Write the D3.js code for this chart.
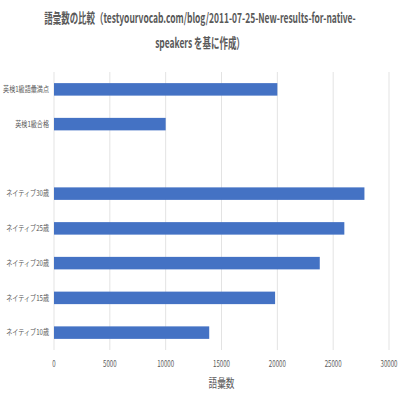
<!DOCTYPE html>
<html>
<head>
<meta charset="utf-8">
<script src="https://cdn.jsdelivr.net/npm/d3@7"></script>
<style>
  body { margin: 0; background: #fff; }
  svg text { font-family: "Noto Sans CJK JP", "Noto Sans", sans-serif; }
</style>
</head>
<body>
<div id="chart"></div>
<script>
// data
const categories = ["英検1級語彙満点", "英検1級合格", "", "ネイティブ30歳", "ネイティブ25歳", "ネイティブ20歳", "ネイティブ15歳", "ネイティブ10歳"];
const values = [20000, 10000, null, 27800, 26000, 23800, 19800, 13900];
const xTicks = [0, 5000, 10000, 15000, 20000, 25000, 30000];
const titleLines = ["語彙数の比較（testyourvocab.com/blog/2011-07-25-New-results-for-native-", "speakers を基に作成）"];
const xTitle = "語彙数";

const data = categories.map((c, i) => ({ cat: c, key: "c" + i, value: values[i] }));

// dimensions
const W = 400, H = 400;
const margin = { top: 72, right: 11, bottom: 50, left: 54 };
const width = W - margin.left - margin.right;
const height = H - margin.top - margin.bottom;

// squeeze text horizontally (the original uses a condensed font)
function condense(sel, k) {
  sel.each(function () {
    const t = d3.select(this);
    const x0 = +t.attr("x"), y0 = +t.attr("y");
    t.attr("x", 0).attr("y", 0)
      .attr("transform", `translate(${x0},${y0}) scale(${k},1)`);
  });
}

const root = d3.select("#chart").append("svg")
  .attr("width", W)
  .attr("height", H);

// title
const title = root.append("g").selectAll("text")
  .data(titleLines)
  .join("text")
  .attr("x", W / 2)
  .attr("y", (d, i) => 23 + i * 25)
  .attr("text-anchor", "middle")
  .style("font-size", "13.5px")
  .style("font-weight", "bold")
  .attr("fill", "#595959")
  .text(d => d);
const titleW = title.node().getComputedTextLength();
condense(title, 312 / titleW);

const svg = root.append("g")
  .attr("transform", `translate(${margin.left},${margin.top})`);

// scales
const x = d3.scaleLinear()
  .domain([0, 30000])
  .range([0, width]);

const y = d3.scaleBand()
  .domain(data.map(d => d.key))
  .range([0, height])
  .paddingInner(0.64)
  .paddingOuter(0.32);

// gridlines
svg.append("g")
  .selectAll("line")
  .data(xTicks)
  .join("line")
  .attr("x1", d => x(d))
  .attr("x2", d => x(d))
  .attr("y1", 0)
  .attr("y2", height)
  .attr("stroke", "#e3e3e3")
  .attr("stroke-width", 1);

// x tick labels
svg.append("g")
  .selectAll("text")
  .data(xTicks)
  .join("text")
  .attr("x", d => x(d))
  .attr("y", height + 17)
  .attr("text-anchor", "middle")
  .style("font-size", "8.5px")
  .attr("fill", "#595959")
  .text(d => d)
  .call(condense, 0.72);

// category labels
const catLabels = svg.append("g")
  .selectAll("text")
  .data(data)
  .join("text")
  .attr("x", -5)
  .attr("y", d => y(d.key) + y.bandwidth() / 2)
  .attr("dy", "0.35em")
  .attr("text-anchor", "end")
  .style("font-size", "8px")
  .attr("fill", "#595959")
  .text(d => d.cat);
const catW = catLabels.nodes()[0].getComputedTextLength();
condense(catLabels, 46 / catW);

// bars
svg.append("g")
  .selectAll("rect")
  .data(data.filter(d => d.value != null))
  .join("rect")
  .attr("x", x(0))
  .attr("y", d => y(d.key))
  .attr("width", d => x(d.value) - x(0))
  .attr("height", y.bandwidth())
  .attr("fill", "#4472c4");

// axis title
svg.append("text")
  .attr("x", x(15000))
  .attr("y", height + 38)
  .attr("text-anchor", "middle")
  .style("font-size", "12px")
  .attr("fill", "#595959")
  .text(xTitle)
  .call(condense, 0.72);
</script>
</body>
</html>
